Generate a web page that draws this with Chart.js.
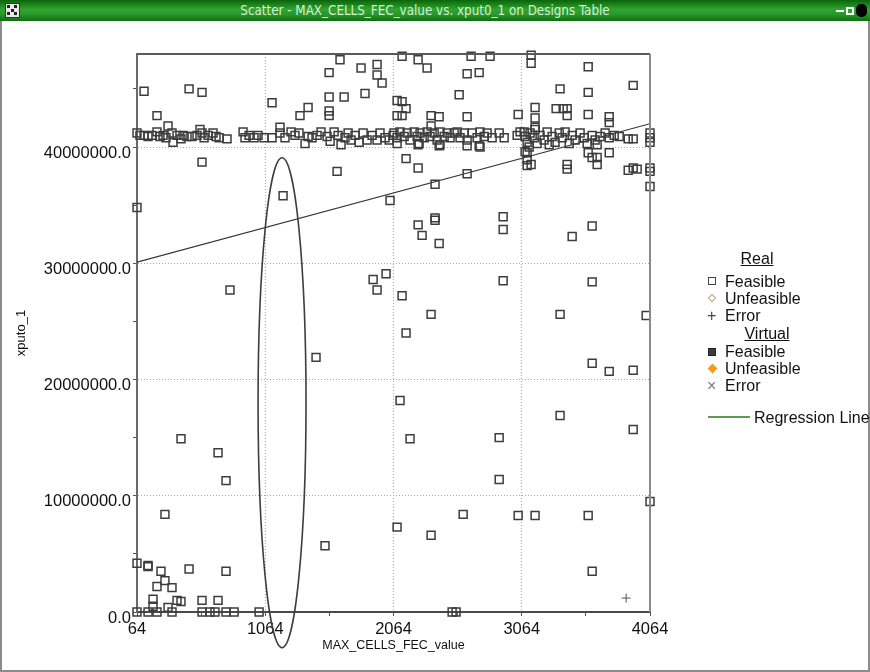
<!DOCTYPE html>
<html>
<head>
<meta charset="utf-8">
<script src="https://cdn.jsdelivr.net/npm/chart.js@4"></script>
<style>
  html, body { margin:0; padding:0; background:#fff; }
  body { width:870px; height:672px; position:relative; overflow:hidden; font-family:"Liberation Sans", Arial, sans-serif; }
  #frame { position:absolute; left:0; top:0; width:866px; height:670px; border-left:2px solid #8c8c8c; border-right:2px solid #8c8c8c; border-bottom:2px solid #8c8c8c; }
  #titlebar { position:absolute; left:0; top:0; width:870px; height:21px;
    background:linear-gradient(#0b640b 0%, #2fa52f 45%, #27972a 70%, #0e6e10 100%); }
  #titletext { position:absolute; left:-10px; top:0; width:870px; height:21px; line-height:21px; text-align:center;
    color:#d6efd2; font-family:"DejaVu Sans Condensed","DejaVu Sans",sans-serif; font-stretch:condensed; font-size:13.3px; }
  #icon { position:absolute; left:5px; top:3px; width:13px; height:13px; background:#e8e8e8; border:1px solid #333; }
  #icon i { position:absolute; width:3px; height:3px; background:#222; }
  #winbtns { position:absolute; right:3px; top:2px; height:17px; color:#fff; font-size:13px; font-weight:bold; }
  canvas { position:absolute; left:0; top:0; }
  .lt { position:absolute; font-size:16px; color:#111; white-space:nowrap; transform:translateY(-50%); }
  .hd { position:absolute; font-size:16px; color:#111; text-decoration:underline; white-space:nowrap; transform:translate(-50%,-50%); }
  .mk { position:absolute; box-sizing:border-box; }
</style>
</head>
<body>
<div id="frame"></div>
<canvas id="c" width="870" height="672"></canvas>
<div id="titlebar">
  <div id="icon"><i style="left:1px;top:1px"></i><i style="left:8px;top:1px"></i><i style="left:5px;top:5px"></i><i style="left:1px;top:8px"></i><i style="left:8px;top:8px"></i></div>
  <div id="titletext">Scatter - MAX_CELLS_FEC_value vs. xput0_1 on Designs Table</div>
  <div id="winbtns"><span style="display:inline-block;width:8px;height:2px;background:#fff;vertical-align:middle;margin-right:2px"></span><span style="display:inline-block;width:8px;height:8px;border:2px solid #fff;box-sizing:border-box;vertical-align:middle;margin-right:2px"></span><span style="display:inline-block;width:11px;height:13px;background:#000;border-radius:5px;vertical-align:middle"></span></div>
</div>

<div class="hd" style="left:757px;top:259px">Real</div>
<div class="mk" style="left:708px;top:277px;width:8px;height:8px;border:1.5px solid #444"></div>
<div class="lt" style="left:725px;top:282px">Feasible</div>
<div class="mk" style="left:709px;top:295px;width:6px;height:6px;border:1.5px solid #b9a57f;transform:rotate(45deg)"></div>
<div class="lt" style="left:725px;top:299px">Unfeasible</div>
<div class="lt" style="left:707px;top:316px;color:#444">+</div>
<div class="lt" style="left:725px;top:316px">Error</div>
<div class="hd" style="left:767px;top:334px">Virtual</div>
<div class="mk" style="left:708px;top:348px;width:8px;height:8px;background:#3c3c3c;border:1px solid #222"></div>
<div class="lt" style="left:725px;top:352px">Feasible</div>
<div class="mk" style="left:709px;top:365px;width:7px;height:7px;background:#f29c1f;transform:rotate(45deg)"></div>
<div class="lt" style="left:725px;top:369px">Unfeasible</div>
<div class="lt" style="left:707px;top:386px;color:#777">×</div>
<div class="lt" style="left:725px;top:386px">Error</div>
<div class="mk" style="left:708px;top:416px;width:42px;height:2px;background:#5e9b50"></div>
<div class="lt" style="left:754px;top:418px">Regression Line</div>

<script>
// ---------- data ----------
const xTickValues = [64, 564, 1064, 1564, 2064, 2564, 3064, 3564, 4064];
const xLabelValues = [64, 1064, 2064, 3064, 4064];
const yTickValues = [0, 5e6, 10e6, 15e6, 20e6, 25e6, 30e6, 35e6, 40e6, 45e6];
const yLabelValues = [0, 10e6, 20e6, 30e6, 40e6];

// Real / Feasible points: MAX_CELLS_FEC_value
const feasibleX = [
  119,470,571,220,571,64,1117,1647,1562,1811,1936,1936,1975,1562,1679,1842,1398,1335,1562,1562,1624,1203,2037,2092,2092,306,1179,
  2131,2256,2326,2669,2817,3137,3137,2638,2732,3582,2576,3363,3582,3933,
  2131,2162,2131,2357,2420,2638,2357,3036,3168,3168,3168,3332,3387,3418,3418,3582,3746,3746,
  2162,2256,2638,2388,
  3106,3106,3106,3137,3418,3418,3582,3613,3652,3652,3746,3894,3933,3964,4064,4064,4064,4064,4064,4064,
  2388,2919,2638,2732,2092,2256,2420,3652,3894,3933,
  789,1905,1936,2006,1460,2115,
  2256,2388,2287,2420,2919,3613,3457,2919,2131,2357,2162,3613,3363,4034,3613,3746,3933,3363,
  2193,2888,2888,3933,2092,2357,2607,3036,3168,3582,4064,3613,2521,2552,
  407,696,758,282,1530,64,150,150,251,470,758,220,282,337,189,189,306,376,407,571,696,
  64,150,220,337,571,633,672,758,821,1016,
  // band around 40-41.5 M
  64,87,119,150,181,220,243,267,290,337,345,376,407,423,454,493,532,555,571,587,618,657,680,704,766,891,906,938,977,1008,
  1055,1117,1179,1218,1265,1296,1327,1374,1398,1429,1468,1499,1546,1570,1601,1632,1655,1686,1710,1733,1764,1796,1827,1858,1897,1936,1959,1998,2030,2061,
  2068,2092,2115,2147,2170,2193,2225,2248,2271,2303,2326,2349,2381,2404,2427,2459,2482,2505,2537,2560,2583,2615,2638,2677,2716,2739,2771,2794,2833,2888,2927,3028,3051,2264,2427,2739,
  3083,3090,3106,3122,3129,3161,3168,3184,3207,3238,3262,3278,3301,3324,3356,3379,3402,3434,3457,3480,3519,3551,3574,3613,3636,3675,3714,3746,3785,3824,3090
];
// Real / Feasible points: xputo_1
const feasibleY = [
  44.8e6,45.0e6,44.7e6,42.7e6,38.7e6,34.8e6,43.8e6,47.5e6,46.4e6,46.8e6,47.1e6,46.2e6,45.5e6,44.3e6,44.3e6,44.6e6,43.4e6,42.7e6,43.1e6,42.7e6,37.9e6,35.8e6,35.4e6,44.0e6,42.7e6,41.8e6,41.7e6,
  47.8e6,47.5e6,46.8e6,47.8e6,47.8e6,47.9e6,47.2e6,46.3e6,46.4e6,46.9e6,44.5e6,45.0e6,44.7e6,45.3e6,
  43.9e6,43.3e6,42.7e6,42.7e6,42.6e6,42.6e6,41.8e6,42.8e6,43.4e6,42.5e6,41.7e6,43.3e6,43.3e6,43.3e6,42.7e6,42.8e6,42.6e6,42.1e6,
  39.0e6,38.2e6,37.7e6,36.8e6,
  39.5e6,38.9e6,38.4e6,38.5e6,38.5e6,38.1e6,39.5e6,39.1e6,39.1e6,38.5e6,39.5e6,38.0e6,38.2e6,38.1e6,38.2e6,37.9e6,36.6e6,41.2e6,40.8e6,40.4e6,
  33.9e6,34.0e6,40.1e6,40.1e6,40.3e6,40.2e6,40.1e6,40.2e6,40.7e6,40.7e6,
  27.7e6,28.6e6,27.7e6,29.1e6,21.9e6,18.2e6,
  33.3e6,33.7e6,32.4e6,31.7e6,32.9e6,33.2e6,32.3e6,28.5e6,27.2e6,25.6e6,24.0e6,28.4e6,25.6e6,25.5e6,21.4e6,20.7e6,20.8e6,16.9e6,
  14.9e6,15.0e6,11.4e6,15.7e6,7.3e6,6.6e6,8.4e6,8.3e6,8.3e6,8.3e6,9.5e6,3.5e6,0,0,
  14.9e6,13.7e6,11.3e6,8.4e6,5.7e6,4.2e6,4.0e6,3.9e6,3.5e6,3.7e6,3.5e6,2.2e6,2.7e6,2.1e6,1.1e6,0.5e6,0.4e6,1.0e6,0.9e6,1.0e6,1.0e6,
  0,0,0,0,0,0,0,0,0,0,
  41.2e6,41.0e6,41.0e6,40.9e6,41.0e6,41.3e6,40.9e6,41.0e6,40.8e6,41.2e6,40.4e6,41.0e6,40.7e6,41.0e6,40.9e6,40.9e6,41.0e6,41.5e6,41.2e6,40.8e6,41.0e6,41.2e6,40.9e6,40.8e6,40.7e6,41.3e6,40.8e6,41.0e6,40.8e6,41.0e6,
  40.8e6,40.8e6,41.2e6,40.8e6,41.3e6,41.0e6,41.2e6,40.3e6,40.9e6,40.8e6,41.0e6,41.3e6,40.9e6,40.5e6,41.3e6,41.0e6,40.2e6,40.8e6,41.2e6,40.6e6,41.0e6,40.4e6,41.2e6,40.6e6,41.0e6,40.6e6,41.2e6,40.8e6,40.6e6,41.0e6,
  41.2e6,40.8e6,41.3e6,40.9e6,41.2e6,40.6e6,41.3e6,40.9e6,41.2e6,40.8e6,41.3e6,40.9e6,41.2e6,40.6e6,41.3e6,40.9e6,41.2e6,40.8e6,41.2e6,41.3e6,40.8e6,41.2e6,40.6e6,41.2e6,40.8e6,41.3e6,40.9e6,41.2e6,40.8e6,41.2e6,40.8e6,41.0e6,41.3e6,40.3e6,40.2e6,40.0e6,
  41.3e6,40.9e6,40.4e6,40.0e6,41.2e6,40.8e6,41.5e6,40.3e6,41.0e6,40.6e6,41.3e6,40.2e6,40.9e6,40.4e6,41.2e6,40.8e6,41.3e6,40.3e6,41.0e6,40.6e6,41.2e6,40.8e6,40.3e6,41.0e6,40.6e6,40.9e6,41.2e6,40.8e6,41.0e6,40.9e6,39.6e6
];

// Real / Error points
const errorX = [3878];
const errorY = [1.2e6];

// Regression line end points
const regressionX = [64, 4064];
const regressionY = [30.1e6, 42.0e6];

// Highlight ellipse (data units): centre and half-extent
const ellipseCenter = [1195, 18.0e6];
const ellipseHalf = [187, 21.07e6];

// ---------- chart ----------
const gridX = [1064, 2064, 3064];
const gridY = [10e6, 20e6, 30e6, 40e6];

const framePlugin = {
  id: 'frame',
  afterDatasetsDraw(chart) {
    const {ctx, chartArea: a, scales: {x, y}} = chart;
    ctx.save();
    ctx.strokeStyle = '#5a5a5a';
    ctx.lineWidth = 2;
    ctx.beginPath();
    ctx.moveTo(a.left, a.top); ctx.lineTo(a.right, a.top);
    ctx.stroke();
    ctx.strokeStyle = '#8a8a8a';
    ctx.beginPath();
    ctx.moveTo(a.right, a.top); ctx.lineTo(a.right, a.bottom);
    ctx.stroke();
    const cx = x.getPixelForValue(ellipseCenter[0]);
    const cy = y.getPixelForValue(ellipseCenter[1]);
    const rx = Math.abs(x.getPixelForValue(ellipseCenter[0] + ellipseHalf[0]) - cx);
    const ry = Math.abs(y.getPixelForValue(ellipseCenter[1] + ellipseHalf[1]) - cy);
    ctx.strokeStyle = '#3e3e3e';
    ctx.lineWidth = 1.6;
    ctx.beginPath();
    ctx.ellipse(cx, cy, rx, ry, 0, 0, Math.PI * 2);
    ctx.stroke();
    ctx.restore();
  }
};

new Chart(document.getElementById('c').getContext('2d'), {
  type: 'scatter',
  data: {
    datasets: [
      {
        label: 'Feasible',
        data: feasibleX.map((v, i) => ({x: v, y: feasibleY[i]})),
        pointStyle: 'rect', pointRadius: 5.6, borderColor: '#3c3c3c', borderWidth: 1.5,
        backgroundColor: 'rgba(0,0,0,0)', clip: false
      },
      {
        label: 'Error',
        data: errorX.map((v, i) => ({x: v, y: errorY[i]})),
        pointStyle: 'cross', pointRadius: 4.5, borderColor: '#555', borderWidth: 1, clip: false
      },
      {
        label: 'Regression Line', type: 'line',
        data: regressionX.map((v, i) => ({x: v, y: regressionY[i]})),
        borderColor: '#353535', borderWidth: 1.2, pointRadius: 0, showLine: true, fill: false
      }
    ]
  },
  options: {
    responsive: false, animation: false, devicePixelRatio: 1,
    layout: {padding: {left: 0, top: 54, right: 220, bottom: 0}},
    plugins: {legend: {display: false}, tooltip: {enabled: false}},
    scales: {
      x: {
        type: 'linear', min: 64, max: 4064,
        afterBuildTicks: s => { s.ticks = xTickValues.map(v => ({value: v})); },
        afterFit: s => { s.height = 60; },
        grid: {
          color: c => gridX.includes(c.tick && c.tick.value) ? '#a8a8a8' : 'rgba(0,0,0,0)',
          tickColor: '#555', tickLength: 4, lineWidth: 1, drawTicks: true
        },
        border: {display: true, color: '#4a4a4a', width: 2, dash: [1, 2]},
        ticks: {
          autoSkip: false, maxRotation: 0, padding: 4, color: '#111',
          font: {family: 'Liberation Sans', size: 16.5},
          callback: v => xLabelValues.includes(v) ? String(v) : ''
        },
        title: {display: true, text: 'MAX_CELLS_FEC_value', color: '#111',
          font: {family: 'Liberation Sans', size: 12.5}, padding: {top: 0, bottom: 19}}
      },
      y: {
        type: 'linear', min: 0, max: 48e6,
        afterBuildTicks: s => { s.ticks = yTickValues.map(v => ({value: v})); },
        afterFit: s => { s.width = 137; },
        grid: {
          color: c => gridY.includes(c.tick && c.tick.value) ? '#a8a8a8' : 'rgba(0,0,0,0)',
          tickColor: '#555', tickLength: 4, lineWidth: 1, drawTicks: true
        },
        border: {display: true, color: '#6a6a6a', width: 2, dash: [1, 2]},
        ticks: {
          autoSkip: false, padding: 2, color: '#111', labelOffset: 6,
          font: {family: 'Liberation Sans', size: 16.5},
          callback: v => yLabelValues.includes(v) ? v.toFixed(1) : ''
        },
        title: {display: true, text: 'xputo_1', color: '#111',
          font: {family: 'Liberation Sans', size: 13}, padding: {top: 14, bottom: 0}}
      }
    }
  },
  plugins: [framePlugin]
});
</script>
</body>
</html>
